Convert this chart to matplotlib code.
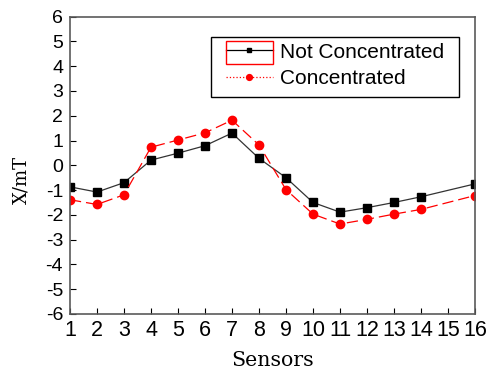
import matplotlib.pyplot as plt
from matplotlib.lines import Line2D
from matplotlib.patches import Rectangle

plt.rcParams['axes.unicode_minus'] = False

# Sensor readings (sensor 15 has no reading)
sensors = [1, 2, 3, 4, 5, 6, 7, 8, 9, 10, 11, 12, 13, 14, 16]
not_concentrated = [-0.87, -1.08, -0.70, 0.21, 0.49, 0.79, 1.30, 0.28, -0.50,
                    -1.50, -1.89, -1.71, -1.50, -1.27, -0.75]
concentrated = [-1.39, -1.58, -1.19, 0.73, 1.02, 1.31, 1.82, 0.82, -0.98,
                -1.97, -2.37, -2.18, -1.97, -1.78, -1.22]
labels = ['Not Concentrated', 'Concentrated']

W, H = 494, 375


def px(x, y):
    # pixel position (from top-left) -> figure fraction
    return x / W, 1 - y / H


fig = plt.figure(figsize=(W / 100, H / 100), dpi=100)
ax = fig.add_axes([70 / W, 1 - 314 / H, 405 / W, 297.4 / H])

ax.plot(sensors, not_concentrated, color='#333333', lw=0.9,
        marker='s', ms=5.2, mfc='black', mec='black')
ax.plot(sensors, concentrated, color='red', lw=0.9, ls=(0, (9, 4)),
        marker='o', ms=6, mfc='red', mec='red')

ax.set_xlim(1, 16)
ax.set_ylim(-6, 6)
ax.set_xticks(range(1, 17))
ax.set_yticks(range(-6, 7))
ax.tick_params(direction='in', length=4, width=0.8, colors='black')
ax.tick_params(axis='x', labelsize=15.5, pad=4)
ax.tick_params(axis='y', labelsize=14, pad=5)
for lab in ax.get_xticklabels() + ax.get_yticklabels():
    lab.set_fontfamily('Liberation Sans')
for sp in ax.spines.values():
    sp.set_color('#5a5a5a')
    sp.set_linewidth(1.2)

fig.text(*px(272.5, 360), 'Sensors', family='DejaVu Serif', fontsize=14.8,
         ha='center', va='center')
fig.text(*px(21, 180), 'X/mT', family='DejaVu Serif', fontsize=13,
         rotation=90, ha='center', va='center')

# Legend entries
handles = [
    Line2D([], [], color='black', lw=0.9, marker='s', ms=3.5),
    Line2D([], [], color='red', lw=0.9, ls=':', marker='o', ms=4.2),
]
leg = ax.legend(handles, labels, loc='upper left',
                bbox_to_anchor=px(226, 42.5), bbox_transform=fig.transFigure,
                borderaxespad=0, borderpad=0, frameon=False,
                prop={'family': 'Liberation Sans', 'size': 15},
                handlelength=2.25, handletextpad=0.35, labelspacing=0.36)

# legend frame and red box around the first symbol
fig.add_artist(Rectangle(px(210.7, 96.7), 248.3 / W, 60 / H,
                         transform=fig.transFigure, fill=False,
                         edgecolor='black', lw=1.0))
fig.add_artist(Rectangle(px(225.7, 64.3), 47.3 / W, 23.6 / H,
                         transform=fig.transFigure, fill=False,
                         edgecolor='red', lw=1.0))

fig.savefig('out.png', dpi=100)
